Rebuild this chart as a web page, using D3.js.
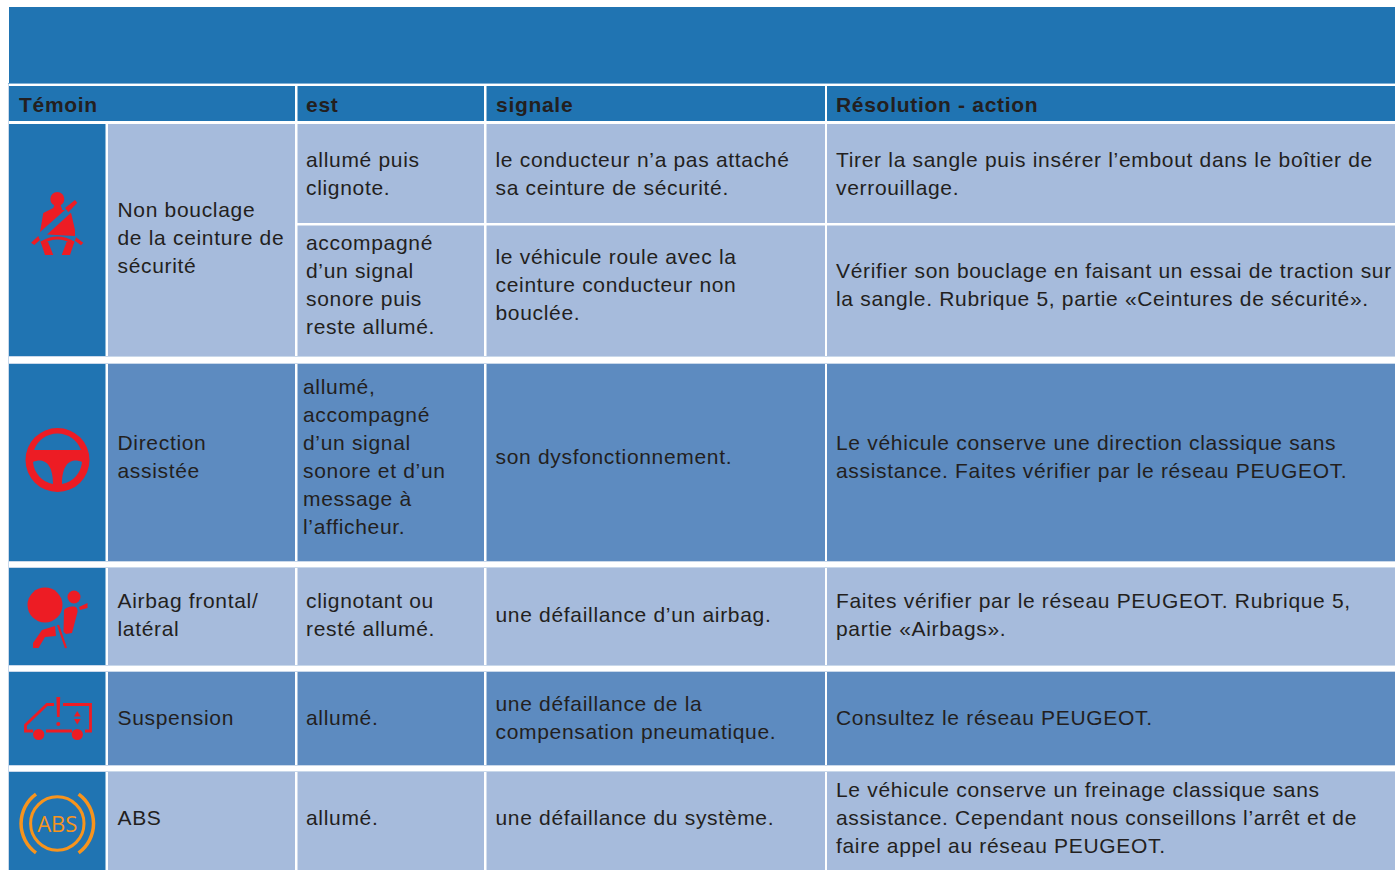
<!DOCTYPE html>
<html lang="fr">
<head>
<meta charset="utf-8">
<title>Témoins</title>
<script src="https://cdnjs.cloudflare.com/ajax/libs/d3/7.8.5/d3.min.js"></script>
<style>
  html, body { margin: 0; padding: 0; background: #fff; overflow: hidden; }
  svg { display: block; }
  text { font-family: "Liberation Sans", Arial, sans-serif; fill: #231f20; }
  .head { font-size: 21px; font-weight: bold; letter-spacing: 0.7px; }
  .cell { font-size: 21px; letter-spacing: 0.68px; }
</style>
</head>
<body>
<div id="chart"></div>
<script>
// table content
const headers = ["Témoin", "est", "signale", "Résolution - action"];

const labels = [
  ["Non bouclage", "de la ceinture de", "sécurité"],
  ["Direction", "assistée"],
  ["Airbag frontal/", "latéral"],
  ["Suspension"],
  ["ABS"]
];

const states = [
  ["allumé puis", "clignote."],
  ["accompagné", "d’un signal", "sonore puis", "reste allumé."],
  ["allumé,", "accompagné", "d’un signal", "sonore et d’un", "message à", "l’afficheur."],
  ["clignotant ou", "resté allumé."],
  ["allumé."],
  ["allumé."]
];

const signals = [
  ["le conducteur n’a pas attaché", "sa ceinture de sécurité."],
  ["le véhicule roule avec la", "ceinture conducteur non", "bouclée."],
  ["son dysfonctionnement."],
  ["une défaillance d’un airbag."],
  ["une défaillance de la", "compensation pneumatique."],
  ["une défaillance du système."]
];

const actions = [
  ["Tirer la sangle puis insérer l’embout dans le boîtier de", "verrouillage."],
  ["Vérifier son bouclage en faisant un essai de traction sur", "la sangle. Rubrique 5, partie «Ceintures de sécurité»."],
  ["Le véhicule conserve une direction classique sans", "assistance. Faites vérifier par le réseau PEUGEOT."],
  ["Faites vérifier par le réseau PEUGEOT. Rubrique 5,", "partie «Airbags»."],
  ["Consultez le réseau PEUGEOT."],
  ["Le véhicule conserve un freinage classique sans", "assistance. Cependant nous conseillons l’arrêt et de", "faire appel au réseau PEUGEOT."]
];

const DARK = "#2074b2", LIGHT = "#a6bbdc", MID = "#5d8bc0", RED = "#ed1c24", ORANGE = "#f7941d";
const LINE_H = 28;

// column edges: icon, label, est, signale, action
const cols = [
  { x0: 9, x1: 105.5 },
  { x0: 108, x1: 295 },
  { x0: 297.5, x1: 484 },
  { x0: 486.5, x1: 825 },
  { x0: 827, x1: 1395 }
];
// label rows (merged over the first two detail rows for the seat belt)
const bands = [
  { y0: 124, y1: 356, fill: LIGHT, mid: 238 },
  { y0: 364, y1: 561, fill: MID, mid: 457 },
  { y0: 568, y1: 665, fill: LIGHT, mid: 615 },
  { y0: 672, y1: 765, fill: MID, mid: 718 },
  { y0: 772, y1: 870, fill: LIGHT, mid: 818 }
];
// detail rows
const details = [
  { y0: 124, y1: 223, fill: LIGHT, mid: 174 },
  { y0: 225.5, y1: 356, fill: LIGHT, mid: 285 },
  { y0: 364, y1: 561, fill: MID, mid: 457 },
  { y0: 568, y1: 665, fill: LIGHT, mid: 615 },
  { y0: 672, y1: 765, fill: MID, mid: 718 },
  { y0: 772, y1: 870, fill: LIGHT, mid: 818 }
];

const svg = d3.select("#chart").append("svg").attr("width", 1395).attr("height", 870);

function rect(x0, y0, x1, y1, fill) {
  return svg.append("rect").attr("x", x0).attr("y", y0)
    .attr("width", x1 - x0).attr("height", y1 - y0).attr("fill", fill);
}

function block(lines, x, mid) {
  svg.append("g").selectAll("text").data(lines).join("text")
    .attr("class", "cell")
    .attr("x", x)
    .attr("y", (d, i) => mid + (i - (lines.length - 1) / 2) * LINE_H + 6.8)
    .text(d => d);
}

// pale outline along the left edge and row gaps
rect(8, 83, 9, 870, "#c9d8ea");
bands.slice(1).forEach(b => rect(8, b.y0 - 1, 1395, b.y0, "#c9d8ea"));
bands.slice(0, -1).forEach(b => rect(8, b.y1, 1395, b.y1 + 1, "#c9d8ea"));

// banner and header row
rect(9, 7, 1395, 83, DARK);
rect(8, 83, 1395, 84, "#7fb0d6");
rect(9, 86, 295, 121, DARK);
rect(297.5, 86, 484, 121, DARK);
rect(486.5, 86, 825, 121, DARK);
rect(827, 86, 1395, 121, DARK);

const headX = [19, 306, 496, 836];
svg.append("g").selectAll("text").data(headers).join("text")
  .attr("class", "head")
  .attr("x", (d, i) => headX[i])
  .attr("y", 112)
  .text(d => d);

// icon and label columns
bands.forEach((b, i) => {
  rect(cols[0].x0, b.y0, cols[0].x1, b.y1, DARK);
  rect(cols[1].x0, b.y0, cols[1].x1, b.y1, b.fill);
  block(labels[i], 117.5, b.mid);
});

// detail columns
details.forEach((r, i) => {
  rect(cols[2].x0, r.y0, cols[2].x1, r.y1, r.fill);
  rect(cols[3].x0, r.y0, cols[3].x1, r.y1, r.fill);
  rect(cols[4].x0, r.y0, cols[4].x1, r.y1, r.fill);
  block(states[i], i === 2 ? 303 : 306, r.mid);
  block(signals[i], 495.5, r.mid);
  block(actions[i], 836, r.mid);
});

// --- icons ---
function beltIcon(g) {
  g.append("circle").attr("cx", 57.3).attr("cy", 199).attr("r", 7).attr("fill", RED);
  g.append("path").attr("fill", RED).attr("d",
    "M40 232 L43.3 213 L53.3 208 L55 203 L60 203 L62.3 210 L65 210 Z" +
    "M65 208 L75 200 L77.3 202.7 L68.3 212.3 Z" +
    "M71 212.7 L75 230 L75 236 L47 234.5 Z" +
    "M41 243 L48 241.7 L53.3 255 L45 255 Z" +
    "M74 243 L66.7 241.7 L61.7 255 L70 255 Z" +
    "M31 242.7 L38.3 236 L40 240 L34.3 245 Z" +
    "M76 237.3 L83.3 242.7 L81 245.3 L75 240.7 Z");
  g.append("path").attr("fill", "none").attr("stroke", RED).attr("stroke-width", 3)
    .attr("d", "M41 243 Q57.5 233 74 243");
}

function wheelIcon(g) {
  g.append("path").attr("fill", RED).attr("fill-rule", "evenodd").attr("d",
    "M57.5 428 A32 32 0 1 0 57.5 492 A32 32 0 1 0 57.5 428 Z" +
    "M34 450 A25 25 0 0 1 81 450 Z" +
    "M33 462 C42 458 53 461 53 484 A24.5 24.5 0 0 1 33 462 Z" +
    "M82 462 C73 458 62 461 62 484 A24.5 24.5 0 0 0 82 462 Z");
}

function airbagIcon(g) {
  g.append("circle").attr("cx", 45).attr("cy", 605).attr("r", 17.5).attr("fill", RED);
  g.append("circle").attr("cx", 74).attr("cy", 597).attr("r", 6.5).attr("fill", RED);
  g.append("path").attr("fill", RED).attr("d",
    "M64 610 Q67 606 74 606.5 Q78 607 77.5 612 L72 633 L66 634 L63.5 632 Z" +
    "M79 607 L87.5 603 L87.5 608 L80 610 Z" +
    "M33 643 L42 630 L55 626 L56 636 L45 637 L38.5 648 L33 648 Z");
  g.append("path").attr("fill", "none").attr("stroke", RED).attr("stroke-width", 2.2)
    .attr("d", "M58 625 L66 648");
}

function vanIcon(g) {
  g.append("path").attr("fill", "none").attr("stroke", RED).attr("stroke-width", 2.8)
    .attr("d", "M54 704.5 L47 704.5 L25.5 725 L25.5 731 L33 731 M46 731 L72 731 M85 731 L90.5 731 L90.5 704.5 L63 704.5");
  g.append("circle").attr("cx", 38.7).attr("cy", 734.5).attr("r", 5.6).attr("fill", RED);
  g.append("circle").attr("cx", 77.3).attr("cy", 734.5).attr("r", 5.6).attr("fill", RED);
  g.append("path").attr("fill", RED).attr("d",
    "M56.4 697 L60.2 697 L59.6 717 L57 717 Z" +
    "M77.3 711 L80.7 716.5 L73.9 716.5 Z M77.3 724.5 L80.7 719 L73.9 719 Z");
  g.append("circle").attr("cx", 58.3).attr("cy", 724).attr("r", 2).attr("fill", RED);
}

function absIcon(g) {
  const cx = 57.3, cy = 823.5;
  const arc = d3.arc().innerRadius(34.5).outerRadius(38);
  g.append("circle").attr("cx", cx).attr("cy", cy).attr("r", 26.7)
    .attr("fill", "none").attr("stroke", ORANGE).attr("stroke-width", 3);
  [[Math.PI * 0.2, Math.PI * 0.8], [-Math.PI * 0.8, -Math.PI * 0.2]].forEach(a => {
    g.append("path").attr("transform", `translate(${cx},${cy})`)
      .attr("fill", ORANGE)
      .attr("d", arc({ startAngle: a[0], endAngle: a[1] }));
  });
  g.append("text").attr("x", cx).attr("y", 831.5).attr("text-anchor", "middle")
    .style("font-family", "'Open Sans', sans-serif").style("font-size", "22px")
    .style("fill", ORANGE).text("ABS");
}

[beltIcon, wheelIcon, airbagIcon, vanIcon, absIcon].forEach(draw => draw(svg.append("g")));
</script>
</body>
</html>
